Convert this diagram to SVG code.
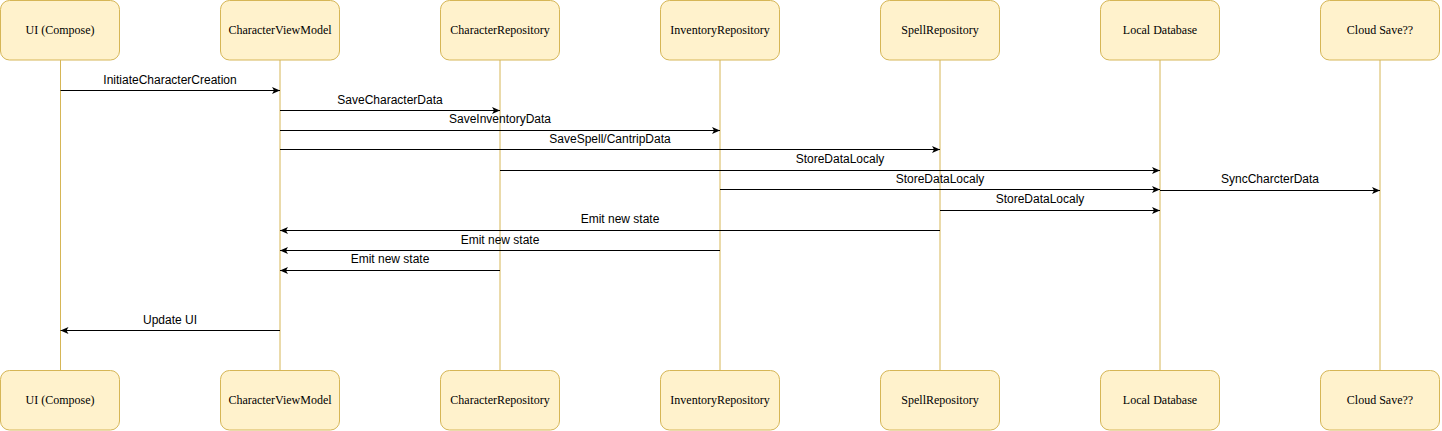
<svg xmlns="http://www.w3.org/2000/svg" width="1442" height="431" viewBox="0 0 1442 431">
<style>
.box{fill:#fff2cc;stroke:#d6b656;stroke-width:1}
.life{stroke:#d6b656;stroke-width:1;fill:none}
.bt{font-family:"Liberation Serif","Times New Roman",serif;font-size:12px;fill:#000;text-anchor:middle}
.msg{stroke:#000;stroke-width:1;fill:none;marker-end:url(#arr)}
.lbl{font-family:"Liberation Sans",Arial,sans-serif;font-size:12px;fill:#000;text-anchor:middle}
</style>
<defs>
<marker id="arr" markerWidth="10" markerHeight="8" refX="8" refY="3.5" orient="auto" markerUnits="userSpaceOnUse">
<path d="M0,0 L8,3.5 L0,7 L2,3.5 z" fill="#000"/>
</marker>
</defs>
<rect width="1442" height="431" fill="#fff"/>
<g id="lifelines">
<line class="life" x1="60.5" y1="60" x2="60.5" y2="370"/>
<line class="life" x1="280" y1="60" x2="280" y2="370"/>
<line class="life" x1="500" y1="60" x2="500" y2="370"/>
<line class="life" x1="720" y1="60" x2="720" y2="370"/>
<line class="life" x1="940" y1="60" x2="940" y2="370"/>
<line class="life" x1="1160" y1="60" x2="1160" y2="370"/>
<line class="life" x1="1380" y1="60" x2="1380" y2="370"/>
</g>
<g id="ui-top"><rect class="box" x="0.5" y="0.5" width="119" height="59.5" rx="9"/><text class="bt" x="60" y="34">UI (Compose)</text></g>
<g id="vm-top"><rect class="box" x="220.5" y="0.5" width="119" height="59.5" rx="9"/><text class="bt" x="280" y="34">CharacterViewModel</text></g>
<g id="charrepo-top"><rect class="box" x="440.5" y="0.5" width="119" height="59.5" rx="9"/><text class="bt" x="500" y="34">CharacterRepository</text></g>
<g id="invrepo-top"><rect class="box" x="660.5" y="0.5" width="119" height="59.5" rx="9"/><text class="bt" x="720" y="34">InventoryRepository</text></g>
<g id="spellrepo-top"><rect class="box" x="880.5" y="0.5" width="119" height="59.5" rx="9"/><text class="bt" x="940" y="34">SpellRepository</text></g>
<g id="localdb-top"><rect class="box" x="1100.5" y="0.5" width="119" height="59.5" rx="9"/><text class="bt" x="1160" y="34">Local Database</text></g>
<g id="cloud-top"><rect class="box" x="1320.5" y="0.5" width="119" height="59.5" rx="9"/><text class="bt" x="1380" y="34">Cloud Save??</text></g>
<g id="ui-bottom"><rect class="box" x="0.5" y="370.5" width="119" height="59.5" rx="9"/><text class="bt" x="60" y="404">UI (Compose)</text></g>
<g id="vm-bottom"><rect class="box" x="220.5" y="370.5" width="119" height="59.5" rx="9"/><text class="bt" x="280" y="404">CharacterViewModel</text></g>
<g id="charrepo-bottom"><rect class="box" x="440.5" y="370.5" width="119" height="59.5" rx="9"/><text class="bt" x="500" y="404">CharacterRepository</text></g>
<g id="invrepo-bottom"><rect class="box" x="660.5" y="370.5" width="119" height="59.5" rx="9"/><text class="bt" x="720" y="404">InventoryRepository</text></g>
<g id="spellrepo-bottom"><rect class="box" x="880.5" y="370.5" width="119" height="59.5" rx="9"/><text class="bt" x="940" y="404">SpellRepository</text></g>
<g id="localdb-bottom"><rect class="box" x="1100.5" y="370.5" width="119" height="59.5" rx="9"/><text class="bt" x="1160" y="404">Local Database</text></g>
<g id="cloud-bottom"><rect class="box" x="1320.5" y="370.5" width="119" height="59.5" rx="9"/><text class="bt" x="1380" y="404">Cloud Save??</text></g>
<g id="connectors">
<line class="msg" x1="60.5" y1="90.5" x2="280" y2="90.5"/>
<line class="msg" x1="280" y1="110.5" x2="500" y2="110.5"/>
<line class="msg" x1="280" y1="130.5" x2="720" y2="130.5"/>
<line class="msg" x1="280" y1="149.5" x2="940" y2="149.5"/>
<line class="msg" x1="500" y1="170.5" x2="1160" y2="170.5"/>
<line class="msg" x1="720" y1="189.5" x2="1160" y2="189.5"/>
<line class="msg" x1="1160" y1="190.5" x2="1380" y2="190.5"/>
<line class="msg" x1="940" y1="210.5" x2="1160" y2="210.5"/>
<line class="msg" x1="940" y1="230.5" x2="280" y2="230.5"/>
<line class="msg" x1="720" y1="250.5" x2="280" y2="250.5"/>
<line class="msg" x1="500" y1="270.5" x2="280" y2="270.5"/>
<line class="msg" x1="280" y1="330.5" x2="60.5" y2="330.5"/>
<text class="lbl" x="170" y="84">InitiateCharacterCreation</text>
<text class="lbl" x="390" y="104">SaveCharacterData</text>
<text class="lbl" x="500" y="123">SaveInventoryData</text>
<text class="lbl" x="610" y="143">SaveSpell/CantripData</text>
<text class="lbl" x="840" y="163">StoreDataLocaly</text>
<text class="lbl" x="940" y="183">StoreDataLocaly</text>
<text class="lbl" x="1270" y="183">SyncCharcterData</text>
<text class="lbl" x="1040" y="203">StoreDataLocaly</text>
<text class="lbl" x="620" y="223">Emit new state</text>
<text class="lbl" x="500" y="244">Emit new state</text>
<text class="lbl" x="390" y="263">Emit new state</text>
<text class="lbl" x="170" y="324">Update UI</text>
</g>
</svg>
